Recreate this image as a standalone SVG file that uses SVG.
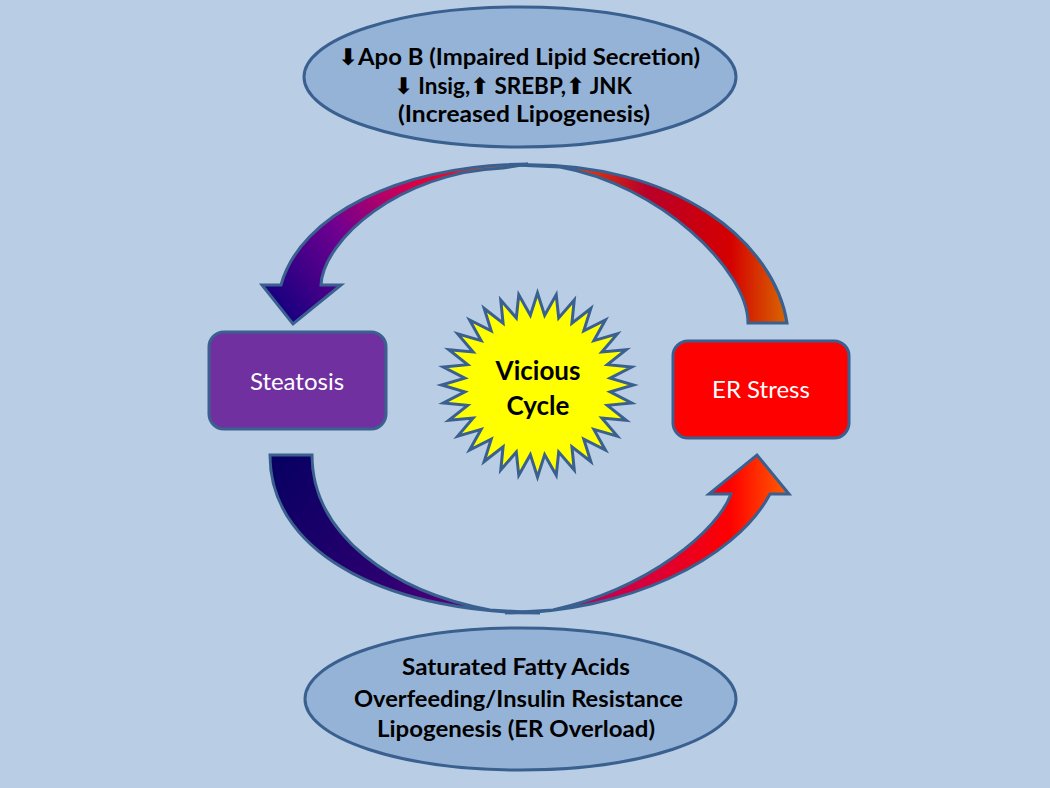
<svg xmlns="http://www.w3.org/2000/svg" width="1050" height="788" viewBox="0 0 1050 788">
<defs>
<style>
.ol{stroke:#3a6090;stroke-width:3;stroke-linejoin:miter}
.ell{fill:#95b3d7;stroke:#3a6090;stroke-width:3}
.bt{font-family:Lato,"Open Sans","DejaVu Sans",sans-serif;font-weight:bold;font-size:23px;fill:#000;text-anchor:middle}
.wt{font-family:Lato,"Open Sans",sans-serif;font-size:24px;fill:#fff;text-anchor:middle}
.vt{font-family:Lato,"Open Sans",sans-serif;font-weight:bold;font-size:26px;fill:#000;text-anchor:middle}
</style>
<linearGradient id="gTL" gradientUnits="userSpaceOnUse" x1="293" y1="324" x2="505" y2="167">
<stop offset="0" stop-color="#1a0080"/>
<stop offset="0.35" stop-color="#700090"/>
<stop offset="0.6" stop-color="#c00060"/>
<stop offset="0.82" stop-color="#ff0020"/>
<stop offset="1" stop-color="#ff7000"/>
</linearGradient>
<linearGradient id="gTR" gradientUnits="userSpaceOnUse" x1="560" y1="0" x2="787" y2="0">
<stop offset="0" stop-color="#e85000"/>
<stop offset="0.38" stop-color="#b8002a"/>
<stop offset="0.75" stop-color="#d40000"/>
<stop offset="1" stop-color="#d86800"/>
</linearGradient>
<linearGradient id="gBL" gradientUnits="userSpaceOnUse" x1="290" y1="455" x2="495" y2="612">
<stop offset="0" stop-color="#0a0064"/>
<stop offset="0.6" stop-color="#2c0070"/>
<stop offset="1" stop-color="#6a0080"/>
</linearGradient>
<linearGradient id="gBR" gradientUnits="userSpaceOnUse" x1="553" y1="0" x2="789" y2="0">
<stop offset="0" stop-color="#a8006a"/>
<stop offset="0.4" stop-color="#d8003a"/>
<stop offset="0.75" stop-color="#ff0000"/>
<stop offset="1" stop-color="#ff6000"/>
</linearGradient>
</defs>
<rect x="0" y="0" width="1050" height="788" fill="#b9cde5"/>

<g id="connectors">
<path id="arrow-top-tail" class="ol" fill="url(#gTR)" d="M515,165 C680,160 775,245 787,323 L748,323 C748,270 660,185 560,167 Z"/>
<path id="arrow-top-head" class="ol" fill="url(#gTL)" d="M528,164 C400,165 300,215 281,285 L262,285 L293,324 L341,285 L321,285 C323,240 400,172 503,168 Z"/>
<path id="arrow-bottom-tail" class="ol" fill="url(#gBL)" d="M270,455 L312,455 C312,535 393,592 490,610 L540,613 C400,613 270,560 270,455 Z"/>
<path id="arrow-bottom-head" class="ol" fill="url(#gBR)" d="M505,613 C625,613 735,560 770,494 L789,494 L757,455 L709,494 L731,494 C718,530 650,588 553,610 Z"/>
</g>

<g id="node-top">
<ellipse class="ell" cx="520" cy="77" rx="216" ry="70"/>
<text class="bt" x="519" y="65" textLength="362" lengthAdjust="spacingAndGlyphs">⬇Apo B (Impaired Lipid Secretion)</text>
<text class="bt" x="513" y="94" textLength="238" lengthAdjust="spacingAndGlyphs">⬇ Insig,⬆ SREBP,⬆ JNK</text>
<text class="bt" x="524" y="122" textLength="252" lengthAdjust="spacingAndGlyphs">(Increased Lipogenesis)</text>
</g>

<g id="node-bottom">
<ellipse class="ell" cx="520.5" cy="699" rx="215.5" ry="71"/>
<text class="bt" x="516" y="675" textLength="228" lengthAdjust="spacingAndGlyphs">Saturated Fatty Acids</text>
<text class="bt" x="518.5" y="707" textLength="329" lengthAdjust="spacingAndGlyphs">Overfeeding/Insulin Resistance</text>
<text class="bt" x="516" y="737" textLength="278" lengthAdjust="spacingAndGlyphs">Lipogenesis (ER Overload)</text>
</g>

<g id="node-steatosis">
<rect class="ol" fill="#7030a0" x="209" y="332" width="177" height="97" rx="15"/>
<text class="wt" x="297" y="390">Steatosis</text>
</g>

<g id="node-er-stress">
<rect class="ol" fill="#ff0000" x="673" y="341" width="176" height="97" rx="15"/>
<text class="wt" x="761" y="398">ER Stress</text>
</g>

<g id="node-vicious-cycle">
<polygon id="star" class="ol" fill="#ffff00" points="537.5,293 544.66,315.34 556.23,294.77 558.69,318.01 574.24,300 571.91,323.27 590.83,308.5 583.81,330.89 605.38,319.95 593.93,340.59 617.32,333.89 601.88,352 626.19,349.79 607.36,364.68 631.66,367.05 610.15,378.14 633.5,385 610.15,391.86 631.66,402.95 607.36,405.32 626.19,420.21 601.88,418 617.32,436.11 593.93,429.41 605.38,450.05 583.81,439.11 590.83,461.5 571.91,446.73 574.24,470 558.69,451.99 556.23,475.23 544.66,454.66 537.5,477 530.34,454.66 518.77,475.23 516.31,451.99 500.76,470 503.09,446.73 484.17,461.5 491.19,439.11 469.62,450.05 481.07,429.41 457.68,436.11 473.12,418 448.81,420.21 467.64,405.32 443.34,402.95 464.85,391.86 441.5,385 464.85,378.14 443.34,367.05 467.64,364.68 448.81,349.79 473.12,352 457.68,333.89 481.07,340.59 469.62,319.95 491.19,330.89 484.17,308.5 503.09,323.27 500.76,300 516.31,318.01 518.77,294.77 530.34,315.34"/>
<text class="vt" x="538" y="380">Vicious</text>
<text class="vt" x="538" y="415">Cycle</text>
</g>
</svg>
